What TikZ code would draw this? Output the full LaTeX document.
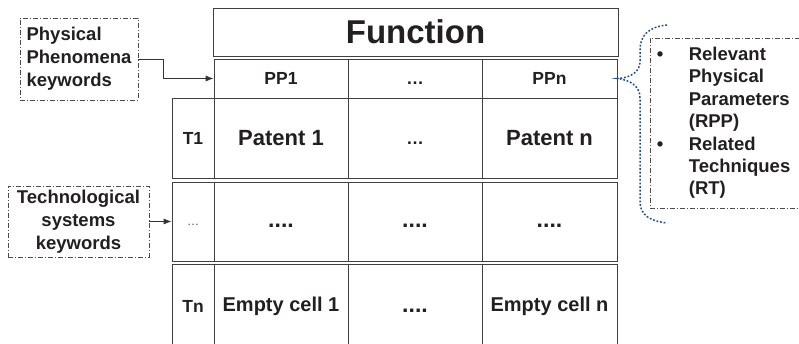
\documentclass[tikz,border=0pt]{standalone}
\usepackage{fontspec}
\setmainfont{Liberation Sans}
\usetikzlibrary{arrows.meta,calc}

\definecolor{bracecol}{RGB}{31,78,140}
\definecolor{inkcol}{RGB}{35,31,32}

\begin{document}
\begin{tikzpicture}[x=1pt,y=-1pt,
    cell/.style={draw=black!75,line width=.8pt,inner sep=0pt,text=inkcol},
    big/.style={font=\bfseries\fontsize{20}{24}\selectfont},
    mid/.style={font=\bfseries\fontsize{17.5}{21}\selectfont},
    keybox/.style={draw=black!70,line width=.7pt,dash pattern=on 5pt off 2pt on 1pt off 2pt,
        inner sep=0pt,text=inkcol,font=\bfseries\fontsize{18.5}{22.8}\selectfont},
    feed/.style={-{Latex[length=8pt,width=6pt]},line width=.8pt,black!80},
    brace/.style={bracecol,line width=1.5pt,dash pattern=on 1.8pt off 1.8pt}]
    \useasboundingbox (0,0) rectangle (799,344);
            % title and first row
            \node[cell,minimum width=405pt,minimum height=48pt,
                font=\bfseries\fontsize{33}{38}\selectfont] (function) at (415.5,32) {Function};
            \node[cell,mid,minimum width=134pt,minimum height=39pt] (pp1) at (281,78.5) {PP1};
            \node[cell,mid,minimum width=134pt,minimum height=39pt] (ppdots) at (415,78.5) {\vphantom{P}\textellipsis};
            \node[cell,mid,minimum width=135pt,minimum height=39pt] (ppn) at (549.5,78.5) {PPn};
            % rows
            \node[cell,mid,minimum width=42pt,minimum height=80pt] (t1) at (193,138) {T1};
            \node[cell,minimum width=134pt,minimum height=80pt,font=\bfseries\fontsize{22}{26}\selectfont] (patent1) at (281,138) {Patent 1};
            \node[cell,mid,minimum width=134pt,minimum height=80pt] (patentdots) at (415,138) {\vphantom{P}\textellipsis};
            \node[cell,minimum width=135pt,minimum height=80pt,font=\bfseries\fontsize{22}{26}\selectfont] (patentn) at (549.5,138) {Patent n};
            \node[cell,minimum width=42pt,minimum height=79pt,font=\fontsize{12}{14}\selectfont,text=black!70] (tdots) at (193,221.5) {\vphantom{P}\textellipsis};
            \node[cell,minimum width=134pt,minimum height=79pt,font=\bfseries\fontsize{23}{26}\selectfont] (dots1) at (281,221.5) {\vphantom{x}....};
            \node[cell,minimum width=134pt,minimum height=79pt,font=\bfseries\fontsize{23}{26}\selectfont] (dots2) at (415,221.5) {\vphantom{x}....};
            \node[cell,minimum width=135pt,minimum height=79pt,font=\bfseries\fontsize{23}{26}\selectfont] (dots3) at (549.5,221.5) {\vphantom{x}....};
            \node[cell,mid,minimum width=42pt,minimum height=84pt] (tn) at (193,306) {Tn};
            \node[cell,big,minimum width=134pt,minimum height=84pt] (empty1) at (281,306) {Empty cell 1};
            \node[cell,minimum width=134pt,minimum height=84pt,font=\bfseries\fontsize{23}{26}\selectfont] (emptydots) at (415,306) {\vphantom{x}....};
            \node[cell,big,minimum width=135pt,minimum height=84pt] (emptyn) at (549.5,306) {Empty cell n};
            % keyword boxes
            \node[keybox,align=left,minimum width=118pt,minimum height=82pt] (phys) at (79,59)
                {Physical\\Phenomena\\keywords};
            \node[keybox,align=center,minimum width=141pt,minimum height=71pt] (tech) at (78.5,221.5)
                {Technological\\systems\\keywords};
            \draw[feed] (phys.east) -- ++(25,0) |- (pp1.west);
            \draw[feed] (tech.east) -- (tdots.west);
            % parameters box and brace
            \node[keybox,minimum width=160pt,minimum height=170pt] (rpp) at (730,123) {};
            \node[anchor=west,inner sep=0pt,align=left,text=inkcol,
                font=\bfseries\fontsize{18.5}{22.4}\selectfont] (rpptext) at ($(rpp.west)+(7,0)$)
                {\makebox[32pt][l]{\textbullet}Relevant\\
                 \hspace*{32pt}Physical\\
                 \hspace*{32pt}Parameters\\
                 \hspace*{32pt}(RPP)\\
                 \makebox[32pt][l]{\textbullet}Related\\
                 \hspace*{32pt}Techniques\\
                 \hspace*{32pt}(RT)};
            \coordinate (bracetop) at (667,25);
            \coordinate (bracebot) at (667,223);
            \draw[brace] (bracetop) .. controls (648,27) and (640,36) .. (640,50)
                -- (640,62) .. controls (640,72) and (630,78) .. (ppn.east)
                .. controls (630,80) and (640,86) .. (640,98)
                -- (640,202) .. controls (640,215) and (650,221) .. (bracebot);
        \end{tikzpicture}
\end{document}
